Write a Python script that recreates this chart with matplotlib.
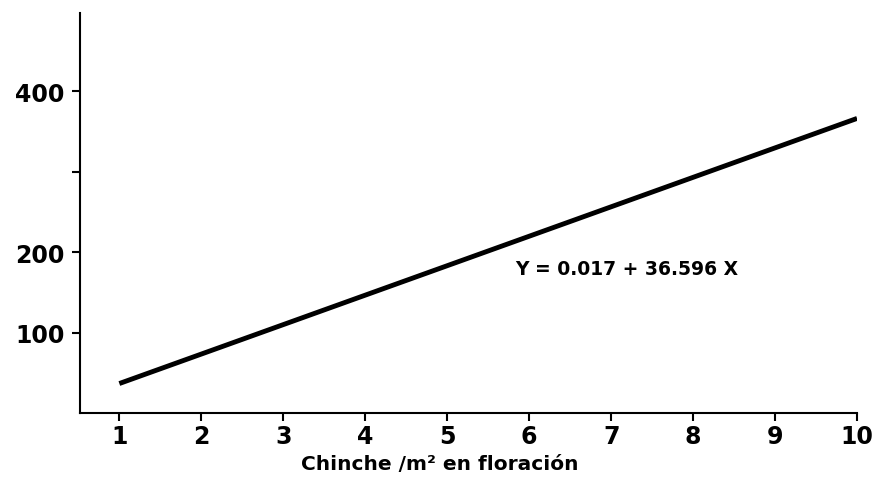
import matplotlib.pyplot as plt

# Recta de regresión: Y = 0.017 + 36.596 X
chinche = [1, 10]
rendimiento = [36.6, 366.0]

x_ticks = [1, 2, 3, 4, 5, 6, 7, 8, 9, 10]
y_ticks = [100, 200, 300, 400]
y_labels = ["100", "200", "", "400"]

plt.rcParams['font.family'] = ['DejaVu Sans']
plt.rcParams['font.weight'] = 'bold'

fig = plt.figure(figsize=(8.85, 4.89), dpi=100)
ax = fig.add_axes([0.0904, 0.1534, 0.8780, 0.8180])

ax.plot(chinche, rendimiento, color='black', linewidth=3.5, solid_capstyle='butt')

ax.text(5.83, 179, "Y = 0.017 + 36.596 X", fontsize=13.5, fontweight='bold',
        ha='left', va='center')

ax.set_xlim(0.52, 10)
ax.set_ylim(0, 497)
ax.set_xticks(x_ticks)
ax.set_yticks(y_ticks)
ax.set_yticklabels(y_labels)
ax.tick_params(axis='both', direction='out', length=6, width=1.5,
               labelsize=17, pad=5)
ax.tick_params(axis='x', pad=2)
for lab in ax.get_xticklabels() + ax.get_yticklabels():
    lab.set_fontweight('bold')

ax.spines['top'].set_visible(False)
ax.spines['right'].set_visible(False)
ax.spines['left'].set_linewidth(1.5)
ax.spines['bottom'].set_linewidth(1.5)

ax.set_xlabel("Chinche /m² en floración", fontsize=14.5, fontweight='bold')
ax.xaxis.set_label_coords(0.463, -0.1275)
ax.xaxis.label.set_va('center')

fig.savefig("out.png", dpi=100)
